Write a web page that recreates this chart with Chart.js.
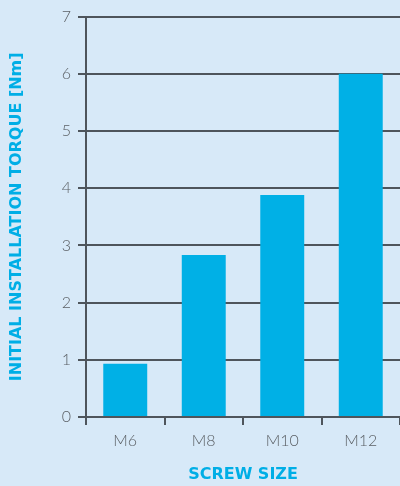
<!DOCTYPE html>
<html><head><meta charset="utf-8">
<script src="https://cdn.jsdelivr.net/npm/chart.js@4"></script>
<style>html,body{margin:0;padding:0;background:#d7e9f8;}canvas{display:block;}</style>
</head><body>
<canvas id="c" width="400" height="486"></canvas>
<script>
const categories = ["M6", "M8", "M10", "M12"];
const torque = [0.93, 2.83, 3.88, 6.0];
const yTicks = [0, 1, 2, 3, 4, 5, 6, 7];
const xTitle = "SCREW SIZE";
const yTitle = "INITIAL INSTALLATION TORQUE [Nm]";

const gridCol = "#4e555c";
const tickFont = {family: "Lato", size: 16, weight: "300"};
const titleFont = {family: "DejaVu Sans", size: 16, weight: "bold"};
new Chart(document.getElementById("c"), {
  type: "bar",
  data: {labels: categories, datasets: [{data: torque, backgroundColor: "#00b0e6", barPercentage: 0.56, categoryPercentage: 1}]},
  options: {
    responsive: false, animation: false,
    layout: {padding: {top: 16, right: 0, left: 0, bottom: 0}},
    plugins: {legend: {display: false}, tooltip: {enabled: false}},
    scales: {
      x: {
        grid: {drawOnChartArea: false, drawTicks: true, tickLength: 8, color: gridCol, lineWidth: 2, offset: true},
        border: {color: gridCol, width: 2},
        ticks: {color: "#5a5f64", font: tickFont, padding: 6},
        title: {display: true, text: xTitle, color: "#00aee6", font: titleFont, padding: {top: 8, bottom: 2}},
        afterFit: s => { s.height = 69; }
      },
      y: {
        min: 0, max: 7,
        afterBuildTicks: s => { s.ticks = yTicks.map(v => ({value: v})); },
        grid: {color: gridCol, lineWidth: 2, tickLength: 8},
        border: {color: gridCol, width: 2},
        ticks: {color: "#5a5f64", font: tickFont, padding: 7},
        title: {display: true, text: yTitle, color: "#00aee6", font: titleFont, padding: {top: 7, bottom: 8}},
        afterFit: s => { s.width = 86; }
      }
    }
  }
});
</script>
</body></html>
